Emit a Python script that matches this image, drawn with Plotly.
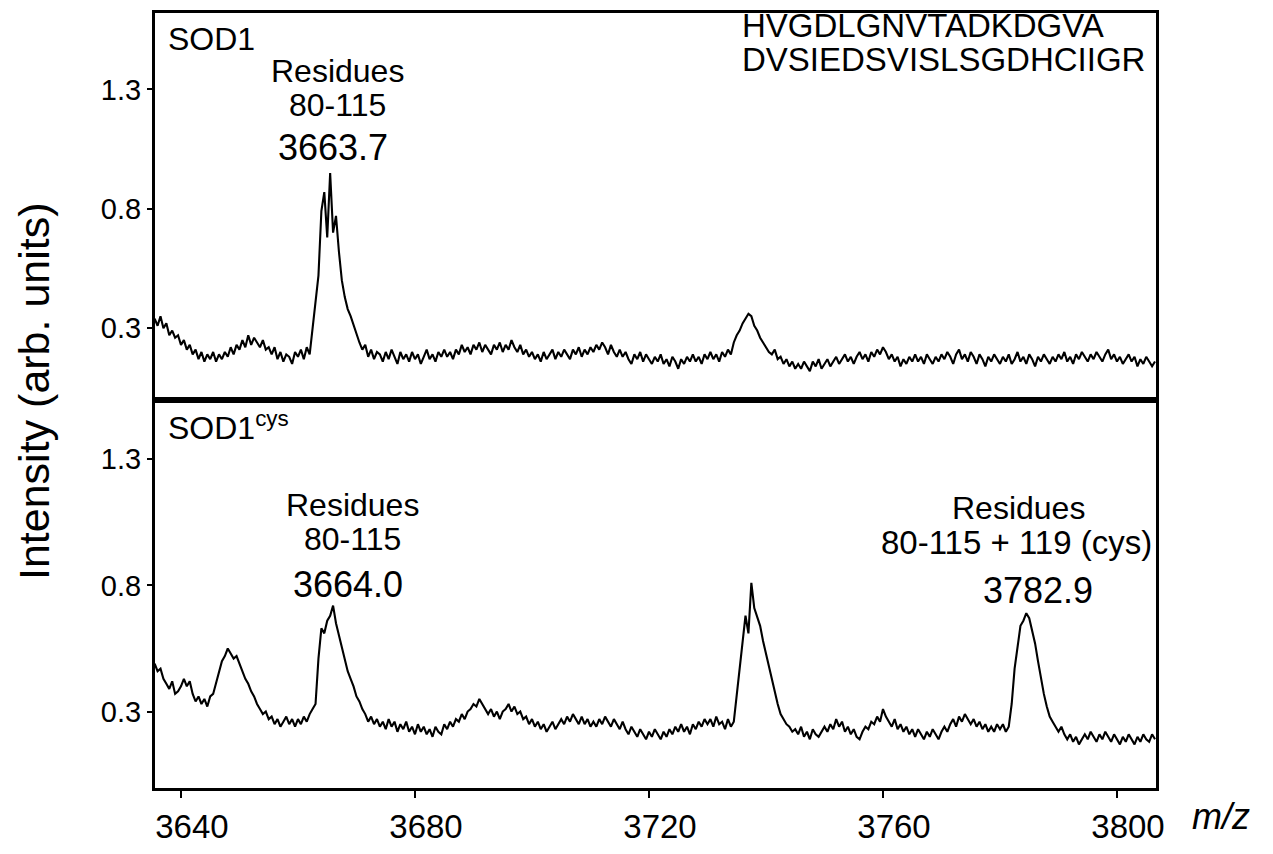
import numpy as np
import plotly.graph_objects as go
from plotly.subplots import make_subplots

# m/z sampling grid start and step (instrument grid)
MZ_START = 3635.5
MZ_STEP = 0.5

# SOD1 spectrum intensities (arb. units), 0.5 m/z apart
sod1 = [
    0.34,0.31,0.35,0.30,0.32,0.27,0.29,0.26,0.27,0.23,
    0.25,0.21,0.23,0.19,0.21,0.17,0.20,0.16,0.19,0.17,
    0.20,0.16,0.19,0.17,0.20,0.18,0.22,0.19,0.23,0.21,
    0.25,0.22,0.27,0.23,0.26,0.24,0.22,0.25,0.21,0.22,
    0.19,0.22,0.17,0.20,0.16,0.19,0.18,0.15,0.20,0.18,
    0.21,0.17,0.22,0.19,0.30,0.43,0.52,0.79,0.87,0.68,
    0.95,0.70,0.77,0.62,0.50,0.43,0.38,0.35,0.31,0.27,
    0.24,0.21,0.23,0.18,0.21,0.17,0.20,0.19,0.16,0.20,
    0.17,0.21,0.18,0.15,0.20,0.17,0.19,0.16,0.20,0.17,
    0.19,0.15,0.18,0.21,0.17,0.19,0.16,0.20,0.18,0.21,
    0.18,0.20,0.17,0.21,0.19,0.23,0.20,0.22,0.19,0.23,
    0.21,0.24,0.20,0.23,0.21,0.19,0.23,0.21,0.24,0.20,
    0.23,0.21,0.25,0.22,0.20,0.23,0.19,0.21,0.18,0.20,
    0.17,0.19,0.16,0.20,0.17,0.19,0.21,0.17,0.20,0.18,
    0.21,0.19,0.17,0.21,0.19,0.22,0.18,0.21,0.19,0.22,
    0.20,0.23,0.21,0.24,0.22,0.19,0.23,0.20,0.18,0.21,
    0.18,0.20,0.17,0.15,0.19,0.17,0.20,0.16,0.19,0.17,
    0.15,0.18,0.16,0.19,0.15,0.17,0.14,0.18,0.16,0.13,
    0.17,0.15,0.18,0.16,0.19,0.16,0.18,0.15,0.19,0.17,
    0.20,0.17,0.19,0.16,0.20,0.18,0.21,0.19,0.24,0.27,
    0.29,0.32,0.34,0.36,0.35,0.31,0.29,0.26,0.24,0.22,
    0.20,0.19,0.21,0.17,0.18,0.15,0.17,0.14,0.16,0.13,
    0.15,0.13,0.16,0.14,0.12,0.16,0.14,0.17,0.13,0.15,
    0.17,0.14,0.16,0.18,0.15,0.17,0.19,0.16,0.18,0.15,
    0.18,0.20,0.17,0.19,0.16,0.20,0.18,0.21,0.19,0.22,
    0.20,0.17,0.19,0.16,0.18,0.14,0.17,0.15,0.18,0.16,
    0.19,0.16,0.18,0.15,0.19,0.17,0.15,0.18,0.16,0.19,
    0.17,0.20,0.18,0.15,0.19,0.21,0.17,0.19,0.16,0.20,
    0.18,0.15,0.19,0.17,0.14,0.18,0.16,0.19,0.17,0.15,
    0.18,0.16,0.19,0.15,0.17,0.20,0.16,0.18,0.15,0.19,
    0.17,0.14,0.18,0.16,0.19,0.17,0.15,0.18,0.16,0.19,
    0.17,0.20,0.16,0.18,0.15,0.19,0.17,0.20,0.18,0.16,
    0.19,0.17,0.20,0.18,0.16,0.19,0.21,0.17,0.19,0.16,
    0.18,0.15,0.17,0.19,0.16,0.18,0.14,0.17,0.15,0.18,
    0.16,0.14,0.16,
]

# SOD1cys spectrum intensities (arb. units)
sod1_cys = [
    0.49,0.46,0.47,0.43,0.41,0.39,0.42,0.37,0.38,0.40,
    0.43,0.40,0.42,0.37,0.34,0.36,0.33,0.35,0.32,0.36,
    0.37,0.41,0.45,0.50,0.52,0.55,0.53,0.51,0.52,0.49,
    0.46,0.43,0.41,0.38,0.36,0.33,0.31,0.29,0.30,0.27,
    0.28,0.25,0.27,0.24,0.26,0.28,0.25,0.27,0.24,0.27,
    0.25,0.28,0.26,0.29,0.31,0.33,0.51,0.63,0.61,0.66,
    0.68,0.72,0.65,0.60,0.55,0.51,0.46,0.43,0.40,0.36,
    0.34,0.31,0.29,0.26,0.28,0.25,0.27,0.24,0.26,0.23,
    0.27,0.24,0.26,0.22,0.25,0.23,0.26,0.22,0.24,0.21,
    0.25,0.22,0.24,0.21,0.23,0.20,0.24,0.22,0.21,0.25,
    0.23,0.26,0.24,0.27,0.26,0.29,0.27,0.30,0.31,0.33,
    0.32,0.35,0.33,0.31,0.29,0.31,0.28,0.30,0.27,0.30,
    0.31,0.33,0.30,0.32,0.29,0.30,0.27,0.28,0.25,0.27,
    0.24,0.26,0.23,0.25,0.22,0.24,0.26,0.23,0.25,0.27,
    0.25,0.28,0.26,0.29,0.27,0.25,0.28,0.25,0.27,0.24,
    0.26,0.24,0.27,0.25,0.28,0.26,0.24,0.27,0.25,0.23,
    0.26,0.23,0.21,0.24,0.22,0.20,0.23,0.21,0.19,0.22,
    0.20,0.23,0.21,0.19,0.22,0.20,0.23,0.21,0.24,0.22,
    0.25,0.22,0.24,0.21,0.25,0.23,0.26,0.24,0.27,0.25,
    0.27,0.24,0.28,0.25,0.26,0.23,0.27,0.24,0.26,0.36,
    0.47,0.58,0.68,0.61,0.81,0.71,0.67,0.64,0.58,0.53,
    0.47,0.42,0.38,0.33,0.29,0.27,0.25,0.24,0.22,0.23,
    0.21,0.24,0.20,0.22,0.19,0.23,0.21,0.20,0.22,0.24,
    0.22,0.25,0.23,0.27,0.24,0.26,0.22,0.24,0.21,0.23,
    0.20,0.19,0.22,0.24,0.23,0.26,0.25,0.28,0.26,0.31,
    0.28,0.26,0.24,0.27,0.23,0.25,0.22,0.24,0.21,0.23,
    0.20,0.23,0.21,0.19,0.22,0.20,0.23,0.21,0.19,0.22,
    0.24,0.22,0.25,0.27,0.24,0.28,0.26,0.29,0.27,0.25,
    0.27,0.24,0.26,0.23,0.25,0.22,0.24,0.22,0.25,0.23,
    0.25,0.22,0.24,0.33,0.47,0.56,0.64,0.66,0.69,0.67,
    0.62,0.57,0.50,0.43,0.37,0.32,0.28,0.26,0.24,0.22,
    0.24,0.21,0.19,0.21,0.18,0.20,0.17,0.19,0.21,0.19,
    0.22,0.20,0.18,0.21,0.19,0.22,0.20,0.18,0.21,0.19,
    0.17,0.20,0.18,0.21,0.19,0.17,0.20,0.18,0.21,0.19,
    0.18,0.21,0.19,
]

x_ticks = [3640, 3680, 3720, 3760, 3800]
y_ticks = [0.3, 0.8, 1.3]
y_tick_text = ["0.3", "0.8", "1.3"]

mz_top = MZ_START + MZ_STEP * np.arange(len(sod1))
mz_bot = MZ_START + MZ_STEP * np.arange(len(sod1_cys))

# the html body adds an 8 px margin on every side; keep the page inside the window
OFF = 8
W, H = 1273 - 2 * OFF, 854 - 2 * OFF
# frame edges in page pixels
PL, PR, PT, PB, PSPLIT = 155, 1156, 9.5, 806, 407
L, R, T, B = PL - OFF, PR - OFF, PT - OFF, PB - OFF
SPLIT = PSPLIT - OFF

FONT = "Liberation Sans, Arial, sans-serif"

fig = make_subplots(rows=2, cols=1, shared_xaxes=True, vertical_spacing=0)

fig.add_trace(go.Scatter(x=mz_top, y=sod1, mode="lines",
                         line=dict(color="black", width=2.1), showlegend=False),
              row=1, col=1)
fig.add_trace(go.Scatter(x=mz_bot, y=sod1_cys, mode="lines",
                         line=dict(color="black", width=2.1), showlegend=False),
              row=2, col=1)

xrange = [3635.56, 3806.67]
frame = dict(showline=True, mirror=True, linewidth=3, linecolor="black",
             showgrid=False, zeroline=False)

fig.update_xaxes(range=xrange, **frame)
fig.update_xaxes(row=1, col=1, showticklabels=False, ticks="")
fig.update_xaxes(row=2, col=1, tickvals=x_ticks, ticks="outside", ticklen=7,
                 tickwidth=2, tickcolor="black", ticklabelshift=11,
                 tickfont=dict(family=FONT, size=33, color="black"))

plot_h = B - T
split_frac = (B - SPLIT) / plot_h
fig.update_yaxes(**frame)
fig.update_yaxes(row=1, col=1, range=[0.0, 1.62], domain=[split_frac, 1],
                 tickvals=y_ticks, ticktext=y_tick_text, ticks="outside",
                 ticklen=5, tickwidth=2, tickcolor="black",
                 tickfont=dict(family=FONT, size=29, color="black"))
fig.update_yaxes(row=2, col=1, range=[-0.003, 1.536], domain=[0, split_frac],
                 tickvals=y_ticks, ticktext=y_tick_text, ticks="outside",
                 ticklen=5, tickwidth=2, tickcolor="black",
                 tickfont=dict(family=FONT, size=29, color="black"))


def px(xp):
    return (xp - OFF - L) / (R - L)


def py(yp):
    return (B - (yp - OFF)) / (B - T)


def ann(text, xp, yp, size=32, xanchor="center", yanchor="middle", align="center",
        family=FONT, angle=0):
    fig.add_annotation(text=text, x=px(xp), y=py(yp), xref="paper", yref="paper",
                       showarrow=False, xanchor=xanchor, yanchor=yanchor, align=align,
                       textangle=angle,
                       font=dict(family=family, size=size, color="black"))


ann("SOD1", 166, 36, size=32, xanchor="left")
ann("Residues", 337, 69)
ann("80-115", 337, 104)
ann("3663.7", 333, 148, size=36)
ann("HVGDLGNVTADKDGVA", 740, 22, size=33, xanchor="left")
ann("DVSIEDSVISLSGDHCIIGR", 740, 57, size=33, xanchor="left")

ann("SOD1<sup>cys</sup>", 166, 434, size=32, xanchor="left")
ann("Residues", 352, 515)
ann("80-115", 352, 550)
ann("3664.0", 348, 597, size=36)
ann("Residues", 1018, 518)
ann("80-115 + 119 (cys)", 1016, 554, size=33)
ann("3782.9", 1038, 603, size=36)

ann("<i>m/z</i>", 1221, 835, size=36)
ann("Intensity (arb. units)", 34, 398, size=43, angle=-90)

fig.update_layout(width=W, height=H, plot_bgcolor="white", paper_bgcolor="white",
                  margin=dict(l=L, r=W - R, t=T, b=H - B, pad=0))

fig.write_html("out.html", config={"displayModeBar": False})
